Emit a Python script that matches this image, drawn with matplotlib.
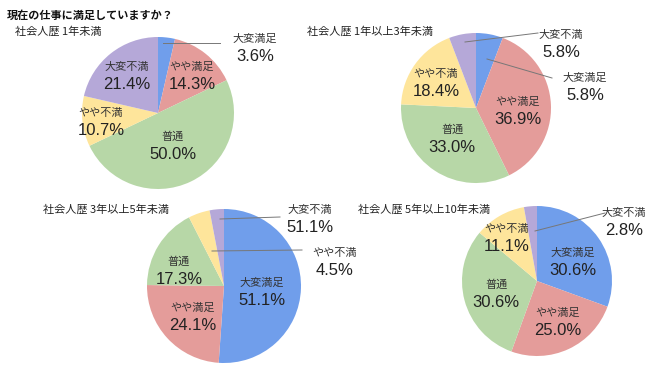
import matplotlib
matplotlib.use("Agg")
import matplotlib.pyplot as plt

# ---------------- data ----------------
title = "現在の仕事に満足していますか？"
categories = ["大変満足", "やや満足", "普通", "やや不満", "大変不満"]
subtitles = ["社会人歴 1年未満", "社会人歴 1年以上3年未満",
             "社会人歴 3年以上5年未満", "社会人歴 5年以上10年未満"]
values_1 = [3.6, 14.3, 50.0, 10.7, 21.4]
values_2 = [5.8, 36.9, 33.0, 18.4, 5.8]
values_3 = [51.1, 24.1, 17.3, 4.5, 3.0]
values_4 = [30.6, 25.0, 30.6, 11.1, 2.8]
# percentage texts as printed in the original (pie 3's "大変不満" label reads 51.1%)
pct_1 = ["3.6%", "14.3%", "50.0%", "10.7%", "21.4%"]
pct_2 = ["5.8%", "36.9%", "33.0%", "18.4%", "5.8%"]
pct_3 = ["51.1%", "24.1%", "17.3%", "4.5%", "51.1%"]
pct_4 = ["30.6%", "25.0%", "30.6%", "11.1%", "2.8%"]

colors = ["#709eeb", "#e49c9a", "#b7d7a7", "#fee59b", "#b5a8d8"]

# ---------------- layout (pixel coords, y from top) ----------------
W, H = 650, 366
pies = [
    dict(values=values_1, pct=pct_1, center=(158, 113), r=76, sub=(15, 31),
         lab=[(255, 39), (192, 67), (173, 137), (101, 113), (127, 67)],
         leaders={0: ((163, 43), (220, 43))}),
    dict(values=values_2, pct=pct_2, center=(476, 108), r=75, sub=(307, 31),
         lab=[(585, 78), (518, 102), (452, 130), (436, 74), (561, 35)],
         leaders={0: ((487, 59), (552, 78)), 4: ((465, 42), (538, 33))}),
    dict(values=values_3, pct=pct_3, center=(224, 286), r=77, sub=(43, 209),
         lab=[(262, 283), (193, 308), (179, 262), (335, 253), (310, 210)],
         leaders={3: ((212, 251), (302, 250)), 4: ((220, 219), (280, 217))}),
    dict(values=values_4, pct=pct_4, center=(537, 281), r=75, sub=(358, 209),
         lab=[(573, 253), (558, 313), (496, 285), (507, 229), (624, 213)],
         leaders={4: ((535, 231), (605, 213))}),
]

plt.rcParams['font.family'] = ['Noto Sans CJK JP', 'DejaVu Sans']

fig = plt.figure(figsize=(W / 100, H / 100), dpi=100)
ax = fig.add_axes([0, 0, 1, 1])


def Y(y):
    return H - y


for k, p in enumerate(pies):
    cx, cy = p["center"]
    ax.pie(p["values"], colors=colors, startangle=90, counterclock=False,
           center=(cx, Y(cy)), radius=p["r"],
           wedgeprops=dict(linewidth=0))
    for i, (lx, ly) in enumerate(p["lab"]):
        ax.text(lx, Y(ly), categories[i], ha="center", va="center",
                fontsize=8, color="#333333")
        ax.text(lx, Y(ly + 17.5), p["pct"][i], ha="center", va="center",
                fontsize=12, color="#222222",
                family=["Liberation Sans", "DejaVu Sans"])
    for i, ((x0, y0), (x1, y1)) in p["leaders"].items():
        ax.plot([x0, x1], [Y(y0), Y(y1)], color="#777777", lw=0.7)
    sx, sy = p["sub"]
    ax.text(sx, Y(sy), subtitles[k], ha="left", va="center",
            fontsize=8, color="#222222")

ax.text(7, Y(15), title, ha="left", va="center", fontsize=8,
        fontweight="bold", color="#111111")

ax.set_xlim(0, W)
ax.set_ylim(0, H)
ax.set_aspect("auto")
ax.axis("off")

fig.savefig("out.png", dpi=100, facecolor="white")
